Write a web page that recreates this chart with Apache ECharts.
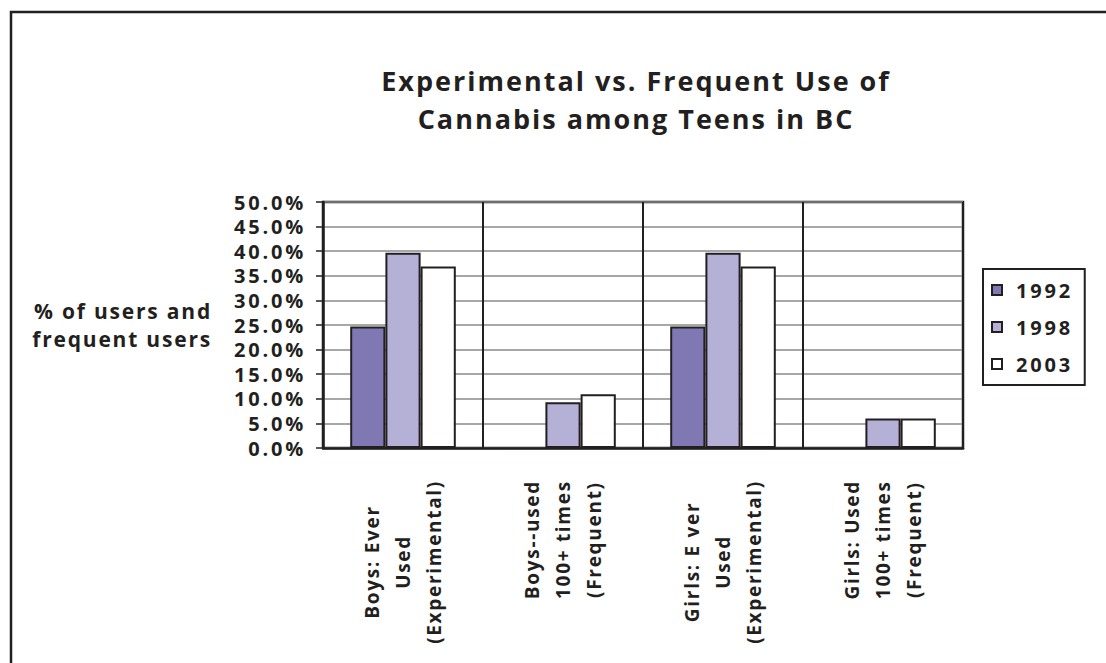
<!DOCTYPE html>
<html>
<head>
<meta charset="utf-8">
<title>Experimental vs. Frequent Use of Cannabis among Teens in BC</title>
<script src="https://cdn.jsdelivr.net/npm/echarts@6/dist/echarts.min.js"></script>
<style>
  html, body { margin: 0; padding: 0; background: #ffffff; }
  #chart { width: 1106px; height: 663px; }
  /* tracked lettering, keyed on each text size */
  #chart text[style*="27px"] { letter-spacing: 2px; }
  #chart text[style*="20px"] { letter-spacing: 2.8px; }
  #chart text[style*="21px"] { letter-spacing: 1.8px; }
  #chart text[style*="19px"] { letter-spacing: 1.7px; }
</style>
</head>
<body>
<div id="chart"></div>
<script>
const titleText = 'Experimental vs. Frequent Use of\nCannabis among Teens in BC';
const yAxisTitle = '% of users and\nfrequent users';
const categories = [
  'Boys: Ever\nUsed\n(Experimental)',
  'Boys--used\n100+ times\n(Frequent)',
  'Girls: E ver\nUsed\n(Experimental)',
  'Girls: Used\n100+ times\n(Frequent)'
];
const years = ['1992', '1998', '2003'];
const values1992 = [24.7, null, 24.7, null];
const values1998 = [39.7, 9.3, 39.7, 6.0];
const values2003 = [36.9, 10.9, 36.9, 6.0];
const yMin = 0;
const yMax = 50;
const yStep = 5;

const FONT = '"Open Sans", "Liberation Sans", sans-serif';
const INK = '#231f20';
const fills = ['#7f78b3', '#b5b0d6', '#ffffff'];
const seriesValues = [values1992, values1998, values2003];

// Category labels: each rotated block starts a fixed gap below the axis,
// with its lines centred on one another.
const CAT_FONT_SIZE = 19;
const CAT_TRACKING = 1.7;
const CAT_GAP = 32;
const measureCtx = document.createElement('canvas').getContext('2d');
measureCtx.font = 'bold ' + CAT_FONT_SIZE + 'px ' + FONT;
function blockLength(label) {
  return Math.max(...label.split('\n').map(
    line => measureCtx.measureText(line).width + line.length * CAT_TRACKING));
}
const categoryItems = categories.map(label => ({
  value: label,
  textStyle: {
    align: 'center',
    verticalAlign: 'middle',
    padding: [0, 2 * CAT_GAP + blockLength(label), 0, 0]
  }
}));

const chart = echarts.init(document.getElementById('chart'), null, { renderer: 'svg' });

chart.setOption({
  backgroundColor: '#ffffff',
  animation: false,
  graphic: [{
    type: 'rect',
    z: -10,
    shape: { x: 11, y: 12, width: 1200, height: 800 },
    style: { fill: 'none', stroke: INK, lineWidth: 2.5 }
  }],
  title: {
    text: titleText,
    left: 636,
    top: 61,
    padding: 0,
    textAlign: 'center',
    textStyle: {
      fontFamily: FONT,
      fontSize: 27,
      fontWeight: 'bold',
      lineHeight: 38,
      color: INK
    }
  },
  legend: {
    data: years,
    orient: 'vertical',
    left: 983,
    top: 269,
    padding: [11, 23, 11, 8],
    itemGap: 17,
    itemWidth: 10,
    itemHeight: 10,
    icon: 'rect',
    borderColor: INK,
    borderWidth: 2,
    backgroundColor: '#ffffff',
    textStyle: {
      fontFamily: FONT,
      fontSize: 20,
      fontWeight: 'bold',
      color: INK,
      padding: [0, 0, 0, 9]
    }
  },
  grid: {
    left: 323,
    top: 202,
    right: 143,
    bottom: 215,
    containLabel: false,
    outerBoundsMode: 'none',
    show: true,
    backgroundColor: '#ffffff',
    borderColor: INK,
    borderWidth: 2.5
  },
  xAxis: {
    type: 'category',
    data: categoryItems,
    axisLine: { show: true, lineStyle: { color: INK, width: 2.5 } },
    axisTick: { show: false },
    splitLine: { show: true, interval: 0, lineStyle: { color: INK, width: 2 } },
    axisLabel: {
      interval: 0,
      rotate: 90,
      align: 'center',
      verticalAlign: 'middle',
      margin: 0,
      lineHeight: 31,
      fontFamily: FONT,
      fontSize: CAT_FONT_SIZE,
      fontWeight: 'bold',
      color: INK
    }
  },
  yAxis: {
    type: 'value',
    min: yMin,
    max: yMax,
    interval: yStep,
    name: yAxisTitle,
    nameLocation: 'middle',
    nameRotate: 0,
    nameGap: 111,
    nameTextStyle: {
      fontFamily: FONT,
      fontSize: 21,
      fontWeight: 'bold',
      lineHeight: 28,
      color: INK
    },
    axisLine: { show: true, lineStyle: { color: INK, width: 2.5 } },
    axisTick: { show: true, length: 7, lineStyle: { color: INK, width: 1.5 } },
    splitLine: { show: true, lineStyle: { color: '#8a8a8a', width: 1.5 } },
    axisLabel: {
      margin: 17,
      formatter: v => v.toFixed(1) + '%',
      fontFamily: FONT,
      fontSize: 20,
      fontWeight: 'bold',
      color: INK
    }
  },
  series: years.map((year, i) => ({
    name: year,
    type: 'bar',
    data: seriesValues[i],
    barGap: '0%',
    barCategoryGap: '34%',
    itemStyle: { color: fills[i], borderColor: INK, borderWidth: 2 }
  }))
});
</script>
</body>
</html>
